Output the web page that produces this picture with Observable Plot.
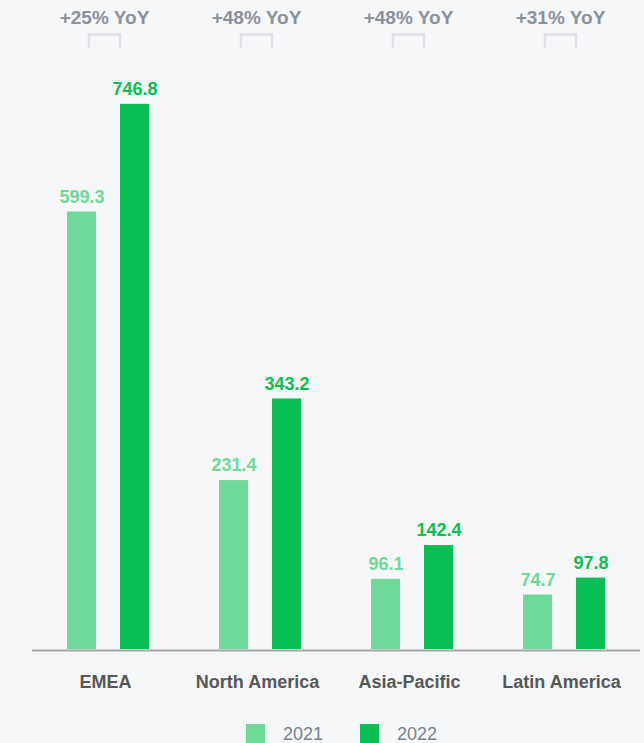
<!DOCTYPE html>
<html>
<head>
<meta charset="utf-8">
<script src="https://cdn.jsdelivr.net/npm/d3@7"></script>
<script src="https://cdn.jsdelivr.net/npm/@observablehq/plot@0.6"></script>
<style>
  html, body { margin: 0; padding: 0; background: #f6f7f9; }
  body { width: 644px; height: 743px; overflow: hidden; font-family: "Liberation Sans", Arial, sans-serif; }
  #legend { position: relative; height: 33px; }
  .sw { position: absolute; top: 14px; width: 19px; height: 19px; }
  .lt { position: absolute; top: 13px; font-size: 18px; color: #7a818c; line-height: 22px; }
</style>
</head>
<body>
<div id="chart"></div>
<div id="legend"></div>
<script>
const regions = ["EMEA", "North America", "Asia-Pacific", "Latin America"];
const years = ["2021", "2022"];
const values2021 = [599.3, 231.4, 96.1, 74.7];
const values2022 = [746.8, 343.2, 142.4, 97.8];
const yoyLabels = ["+25% YoY", "+48% YoY", "+48% YoY", "+31% YoY"];
const colors = ["#6fd99b", "#0abf53"];

const data = regions.flatMap((r, i) => [
  {region: r, year: years[0], value: values2021[i]},
  {region: r, year: years[1], value: values2022[i]}
]);
const regionRows = regions.map((r, i) => ({region: r, yoy: yoyLabels[i]}));

const bracket = {
  draw(context) {
    context.moveTo(-15.5, 7);
    context.lineTo(-15.5, -7);
    context.lineTo(15.5, -7);
    context.lineTo(15.5, 7);
  }
};

const chart = Plot.plot({
  width: 644,
  height: 710,
  marginLeft: 32,
  marginRight: 4,
  marginTop: 65,
  marginBottom: 61,
  facet: {marginTop: 0, marginRight: 0, marginBottom: 0, marginLeft: 0},
  style: {background: "#f6f7f9", fontFamily: "'Liberation Sans', Arial, sans-serif", overflow: "visible"},
  fx: {domain: regions, padding: 0, axis: null},
  x: {domain: years, paddingInner: 0.4528, paddingOuter: 0.66, axis: null},
  y: {domain: [0, 800], axis: null},
  color: {domain: years, range: colors},
  marks: [
    Plot.barY(data, {fx: "region", x: "year", y: "value", fill: "year"}),
    Plot.ruleY([0], {stroke: "#a6a6a6", strokeWidth: 2, dy: 1}),
    Plot.text(data, {fx: "region", x: "year", y: "value", text: d => d.value.toFixed(1),
      fill: "year", fontSize: 18, fontWeight: "bold", dy: -15}),
    Plot.text(regionRows, {fx: "region", text: "region", frameAnchor: "bottom", lineAnchor: "middle",
      dy: 32.5, dx: -3, fill: "#575757", fontSize: 18, fontWeight: "bold"}),
    Plot.text(regionRows, {fx: "region", text: "yoy", frameAnchor: "top", lineAnchor: "middle",
      dy: -47.5, dx: -4, fill: "#8b919b", fontSize: 19, fontWeight: "bold"}),
    Plot.dot(regionRows, {fx: "region", frameAnchor: "top", dy: -24, dx: -4, symbol: bracket,
      fill: "none", stroke: "#dfe1e6", strokeWidth: 2.5})
  ]
});
document.getElementById("chart").appendChild(chart);

const legend = document.getElementById("legend");
const legendX = [[246, 283], [360, 397]];
years.forEach((y, i) => {
  const sw = document.createElement("div");
  sw.className = "sw";
  sw.style.left = legendX[i][0] + "px";
  sw.style.background = colors[i];
  legend.appendChild(sw);
  const t = document.createElement("div");
  t.className = "lt";
  t.style.left = legendX[i][1] + "px";
  t.textContent = y;
  legend.appendChild(t);
});
</script>
</body>
</html>
